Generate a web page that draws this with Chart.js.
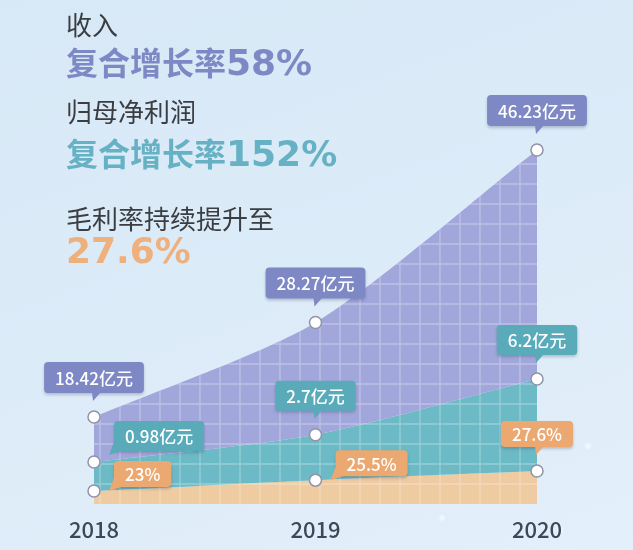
<!DOCTYPE html>
<html>
<head>
<meta charset="utf-8">
<script src="https://cdn.jsdelivr.net/npm/chart.js@4.4.1/dist/chart.umd.min.js"></script>
<style>
html, body { margin: 0; padding: 0; }
#wrap {
  position: relative; width: 633px; height: 550px; overflow: hidden;
  font-family: "Noto Sans CJK SC", sans-serif;
  background:
    radial-gradient(circle at 240px 378px, rgba(255,255,255,0.9) 0, rgba(255,255,255,0) 5px),
    radial-gradient(circle at 381px 468px, rgba(255,255,255,0.8) 0, rgba(255,255,255,0) 4px),
    radial-gradient(circle at 588px 446px, rgba(255,255,255,0.8) 0, rgba(255,255,255,0) 4px),
    radial-gradient(circle at 442px 518px, rgba(255,255,255,0.8) 0, rgba(255,255,255,0) 4px),
    radial-gradient(circle at 560px 530px, rgba(255,255,255,0.7) 0, rgba(255,255,255,0) 5px),
    linear-gradient(160deg, #d7e8f6 0%, #dcebf8 45%, #e3effa 100%);
}
#chart { position: absolute; left: 0; top: 0; }
.t { position: absolute; left: 66px; line-height: 1; white-space: nowrap; }
.lbl { font-size: 26px; color: #3a3d42; }
.big { font-size: 32px; font-weight: 700; }
.big .n { font-family: "DejaVu Sans", sans-serif; font-size: 36px; font-weight: 700; }
</style>
</head>
<body>
<div id="wrap">
  <canvas id="chart" width="633" height="550"></canvas>
  <div class="t lbl" style="top:11px">收入</div>
  <div class="t big" style="top:45px;color:#7d89c5">复合增长率<span class="n">58%</span></div>
  <div class="t lbl" style="top:98px">归母净利润</div>
  <div class="t big" style="top:136px;color:#66b2c4">复合增长率<span class="n">152%</span></div>
  <div class="t lbl" style="top:205px">毛利率持续提升至</div>
  <div class="t big" style="top:233px;color:#eeb07c"><span class="n">27.6%</span></div>
</div>
<script>
const years = ['2018', '2019', '2020'];
const revenue = [18.42, 28.27, 46.23];   // 收入 亿元
const netProfit = [0.98, 2.7, 6.2];      // 归母净利润 亿元
const grossMargin = [23, 25.5, 27.6];    // 毛利率 %

// where each callout sits relative to its point
const placement = [
  ['up', 'up', 'up'],
  ['right', 'up', 'up'],
  ['right', 'right', 'up']
];
const calloutStyle = [
  { bg: '#7e88c5', h: 31, unit: '亿元' },
  { bg: '#5aabba', h: 30, unit: '亿元' },
  { bg: '#eba871', h: 26, unit: '%' }
];

function roundRect(ctx, x, y, w, h, r) {
  ctx.beginPath();
  ctx.moveTo(x + r, y);
  ctx.lineTo(x + w - r, y);
  ctx.quadraticCurveTo(x + w, y, x + w, y + r);
  ctx.lineTo(x + w, y + h - r);
  ctx.quadraticCurveTo(x + w, y + h, x + w - r, y + h);
  ctx.lineTo(x + r, y + h);
  ctx.quadraticCurveTo(x, y + h, x, y + h - r);
  ctx.lineTo(x, y + r);
  ctx.quadraticCurveTo(x, y, x + r, y);
  ctx.closePath();
}

function drawCallout(ctx, px, py, text, st, mode) {
  ctx.font = '500 17px "Noto Sans CJK SC"';
  const w = ctx.measureText(text).width + 22;
  const h = st.h;
  let bx, by;
  if (mode === 'up') {
    bx = px - w / 2;
    by = py - 24 - h;
  } else {
    bx = px + 20;
    by = py - (st.unit === '%' ? 4 : 11) - h;
  }
  ctx.save();
  ctx.shadowColor = 'rgba(40,50,80,0.25)';
  ctx.shadowBlur = 3;
  ctx.shadowOffsetY = 2;
  ctx.fillStyle = st.bg;
  roundRect(ctx, bx, by, w, h, 4);
  ctx.fill();
  ctx.shadowColor = 'transparent';
  ctx.beginPath();
  if (mode === 'up') {
    ctx.moveTo(px - 2, by + h - 1);
    ctx.lineTo(px + 7, by + h - 1);
    ctx.lineTo(px - 1, by + h + 8);
  } else {
    ctx.moveTo(bx, by + h - 9);
    ctx.lineTo(bx + 10, by + h - 1);
    ctx.lineTo(bx - 5, by + h + 4);
  }
  ctx.closePath();
  ctx.fill();
  ctx.fillStyle = '#ffffff';
  ctx.textAlign = 'center';
  ctx.textBaseline = 'middle';
  ctx.fillText(text, bx + w / 2, by + h / 2 + 1);
  ctx.restore();
}

const gridPlugin = {
  id: 'areaGrid',
  beforeDatasetsDraw(chart) {
    const ctx = chart.ctx;
    const area = chart.chartArea;
    const line = chart.getDatasetMeta(0).dataset;
    const pts = chart.getDatasetMeta(0).data;
    ctx.save();
    ctx.beginPath();
    line.path(ctx);
    ctx.lineTo(pts[pts.length - 1].x, area.bottom);
    ctx.lineTo(pts[0].x, area.bottom);
    ctx.closePath();
    ctx.clip();
    ctx.strokeStyle = 'rgba(255,255,255,0.3)';
    ctx.lineWidth = 1.3;
    ctx.beginPath();
    for (let x = area.left + 6; x < area.right; x += 20) {
      ctx.moveTo(x, area.top);
      ctx.lineTo(x, area.bottom);
    }
    for (let y = area.bottom - 20; y > area.top; y -= 20) {
      ctx.moveTo(area.left, y);
      ctx.lineTo(area.right, y);
    }
    ctx.stroke();
    ctx.restore();
  },
  afterDatasetsDraw(chart) {
    const ctx = chart.ctx;
    const series = [revenue, netProfit, grossMargin];
    series.forEach((vals, i) => {
      const meta = chart.getDatasetMeta(i);
      meta.data.forEach((pt, j) => {
        drawCallout(ctx, pt.x, pt.y, vals[j] + calloutStyle[i].unit, calloutStyle[i], placement[i][j]);
      });
    });
  }
};

const pointStyle = {
  pointRadius: 6,
  pointBackgroundColor: '#ffffff',
  pointBorderColor: '#8f94a8',
  pointBorderWidth: 1.5,
  borderColor: 'transparent',
  borderWidth: 1,
  tension: 0.25
};

new Chart(document.getElementById('chart'), {
  type: 'line',
  data: {
    labels: years,
    datasets: [
      Object.assign({ label: '收入', data: revenue, yAxisID: 'yRev', fill: '+1', backgroundColor: '#a2a7db' }, pointStyle),
      Object.assign({ label: '归母净利润', data: netProfit, yAxisID: 'yProfit', fill: '+1', backgroundColor: '#6cbac5' }, pointStyle),
      Object.assign({ label: '毛利率', data: grossMargin, yAxisID: 'yMargin', fill: 'start', backgroundColor: '#eecba1' }, pointStyle)
    ]
  },
  options: {
    responsive: false,
    devicePixelRatio: 1,
    animation: false,
    layout: { padding: { left: 94, right: 96, top: 100, bottom: 0 } },
    plugins: {
      legend: { display: false },
      tooltip: { enabled: false },
      filler: { drawTime: 'beforeDatasetsDraw' }
    },
    scales: {
      x: {
        offset: false,
        grid: { display: false, drawTicks: false },
        border: { display: false },
        afterFit(scale) { scale.height = 46; },
        ticks: {
          color: '#3c4858',
          padding: 12,
          autoSkip: false,
          maxRotation: 0,
          font: { family: '"Noto Sans CJK SC"', size: 22, weight: 500 }
        }
      },
      yRev: { display: false, min: 9.36, max: 51.44 },
      yProfit: { display: false, min: -1.66, max: 23.75 },
      yMargin: { display: false, min: 20.01, max: 112.93 }
    }
  },
  plugins: [gridPlugin]
});
</script>
</body>
</html>
